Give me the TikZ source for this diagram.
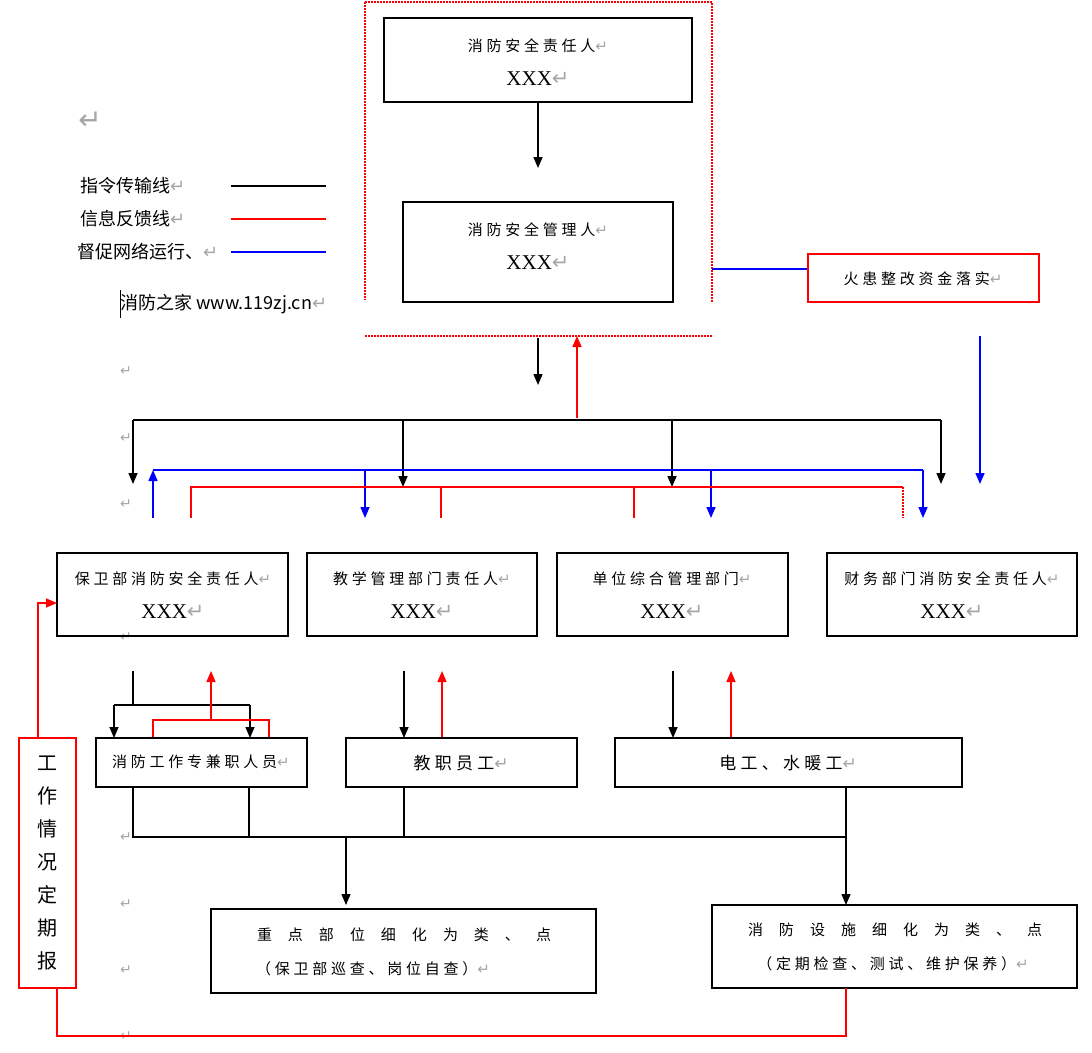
\documentclass[tikz,border=0pt]{standalone}
\usepackage{fontspec}
\setmainfont{Liberation Serif}
\newfontfamily\cjk{Noto Sans CJK SC}
\newfontfamily\cjksp{Noto Sans CJK SC}[LetterSpace=25]
\newfontfamily\dv{DejaVu Sans}
\usetikzlibrary{arrows.meta}
\newcommand{\parmk}{{\dv\color{gray!70}↵}}
\begin{document}
\begin{tikzpicture}[x=1pt,y=-1pt,
 box/.style={draw,line width=1.5pt},
 rbox/.style={draw=red,line width=1.5pt},
 bl/.style={draw=black,line width=1.5pt},
 rd/.style={draw=red,line width=1.5pt},
 bu/.style={draw=blue,line width=1.5pt},
 arr/.style={-{Triangle[length=11pt,width=9pt]}},
 t/.style={font=\cjksp\fontsize{15}{16}\selectfont},
 xxx/.style={font=\fontsize{21}{22}\selectfont},
 lg/.style={font=\cjk\fontsize{18}{20}\selectfont},
 pmk/.style={font=\dv\fontsize{14}{14}\selectfont,text=gray!70}]
\useasboundingbox (0,0) rectangle (1092,1052);
\fill[white] (0,0) rectangle (1092,1052);
% dotted frame
\draw[draw=red,line width=1.2pt,dash pattern=on 1.5pt off 1.5pt] (365,2) -- (712,2) -- (712,302) (365,2) -- (365,300) (365,336) -- (712,336);
% top boxes
\draw[box] (384,18) rectangle (692,102);
\node[t] (n1) at (538,46) {消防安全责任人\parmk};
\node[xxx] (n1x) at (538,79) {XXX\parmk};
\coordinate (b1) at (538,102); \coordinate (b2t) at (538,168);
\draw[bl,arr] (b1) -- (b2t);
\draw[box] (403,202) rectangle (673,302);
\node[t] (n2) at (538,230) {消防安全管理人\parmk};
\node[xxx] (n2x) at (538,263) {XXX\parmk};
\draw[bu] (712,269) -- (808,269);
\draw[rbox] (808,254) rectangle (1039,302);
\node[t] (fh) at (923,279) {火患整改资金落实\parmk};
% legend
\node[pmk,font=\dv\fontsize{28}{28}\selectfont] (pm0) at (90,121) {↵};
\node[lg,anchor=west,inner sep=0] (l1) at (80,186) {指令传输线\parmk};
\node[lg,anchor=west,inner sep=0] (l2) at (80,219) {信息反馈线\parmk};
\node[lg,anchor=west,inner sep=0] (l3) at (77,252) {督促网络运行、\parmk};
\draw[bl] (231,186) -- (326,186);
\draw[rd] (231,219) -- (326,219);
\draw[bu] (231,252) -- (326,252);
\draw (120,290) -- (120,318);
\node[lg,anchor=west,inner sep=0] (web) at (120,304) {消防之家 www.119zj.cn\parmk};
\foreach \yy in {371,438,504,637,837,904,970,1036} \node[pmk] at (126,\yy) {↵};
% middle connectors
\draw[bl,arr] (538,338) -- (538,385);
\draw[rd,arr] (577,418) -- (577,336);
\draw[bl] (133,420) -- (941,420);
\foreach \xx/\yy in {133/484,403/487,672/487,941/484} \draw[bl,arr] (\xx,420) -- (\xx,\yy);
\draw[bu] (153,470) -- (923,470);
\draw[bu,arr] (153,518) -- (153,470);
\foreach \xx in {365,711,923} \draw[bu,arr] (\xx,470) -- (\xx,518);
\draw[bu,arr] (980,336) -- (980,484);
\draw[rd] (191,518) -- (191,487) -- (903,487);
\foreach \xx in {441,634} \draw[rd] (\xx,487) -- (\xx,518);
\draw[draw=red,dash pattern=on 1.5pt off 1.5pt,line width=1.5pt] (903,487) -- (903,518);
% row boxes
\draw[box] (57,553) rectangle (288,636);
\node[t] (a1) at (173,579) {保卫部消防安全责任人\parmk};
\node[xxx] (a2) at (173,612) {XXX\parmk};
\draw[box] (307,553) rectangle (537,636);
\node[t] (b1t) at (422,579) {教学管理部门责任人\parmk};
\node[xxx] (b2x) at (422,612) {XXX\parmk};
\draw[box] (557,553) rectangle (788,636);
\node[t] (c1) at (672,579) {单位综合管理部门\parmk};
\node[xxx] (c2) at (672,612) {XXX\parmk};
\draw[box] (827,553) rectangle (1077,636);
\node[t] (d1) at (952,579) {财务部门消防安全责任人\parmk};
\node[xxx] (d2) at (952,612) {XXX\parmk};
% under A
\draw[bl] (133,671) -- (133,705);
\draw[bl] (114,705) -- (250,705);
\draw[bl,arr] (114,705) -- (114,738);
\draw[bl,arr] (250,705) -- (250,738);
\draw[rd,arr] (211,720) -- (211,671);
\draw[rd] (153,738) -- (153,720) -- (269,720) -- (269,738);
\draw[bl,arr] (404,671) -- (404,738);
\draw[rd,arr] (442,738) -- (442,671);
\draw[bl,arr] (673,671) -- (673,738);
\draw[rd,arr] (731,738) -- (731,671);
% second row
\draw[box] (96,738) rectangle (307,787);
\node[t] (e1) at (201,762) {消防工作专兼职人员\parmk};
\draw[box] (346,738) rectangle (577,787);
\node[t,font=\cjksp\fontsize{17}{18}\selectfont] (f1) at (461,763) {教职员工\parmk};
\draw[box] (615,738) rectangle (962,787);
\node[t,font=\cjksp\fontsize{17}{18}\selectfont] (g1) at (788,763) {电工、水暖工\parmk};
\draw[bl] (133,787) -- (133,837) -- (846,837) -- (846,787);
\draw[bl] (249,787) -- (249,837);
\draw[bl] (404,787) -- (404,837);
\draw[bl,arr] (346,837) -- (346,905);
\draw[bl,arr] (846,837) -- (846,905);
% bottom boxes
\draw[box] (211,909) rectangle (596,993);
\node[t] (h1) at (404,935) {重\hspace{16pt}点\hspace{16pt}部\hspace{16pt}位\hspace{16pt}细\hspace{16pt}化\hspace{16pt}为\hspace{16pt}类\hspace{16pt}、\hspace{16pt}点};
\node[t] (h2) at (373,969) {（保卫部巡查、岗位自查）\parmk};
\draw[box] (712,905) rectangle (1077,988);
\node[t] (i1) at (895,930) {消\hspace{16pt}防\hspace{16pt}设\hspace{16pt}施\hspace{16pt}细\hspace{16pt}化\hspace{16pt}为\hspace{16pt}类\hspace{16pt}、\hspace{16pt}点};
\node[t] (i2) at (893,964) {（定期检查、测试、维护保养）\parmk};
% left report box
\draw[rbox] (19,738) rectangle (76,988);
\node[font=\cjk\fontsize{20}{33}\selectfont,align=center] (rep) at (47,863) {工\\作\\情\\况\\定\\期\\报};
\draw[rd] (846,988) -- (846,1036) -- (57,1036) -- (57,988);
\draw[rd,arr] (38,738) -- (38,603) -- (57,603);
\end{tikzpicture}
\end{document}
